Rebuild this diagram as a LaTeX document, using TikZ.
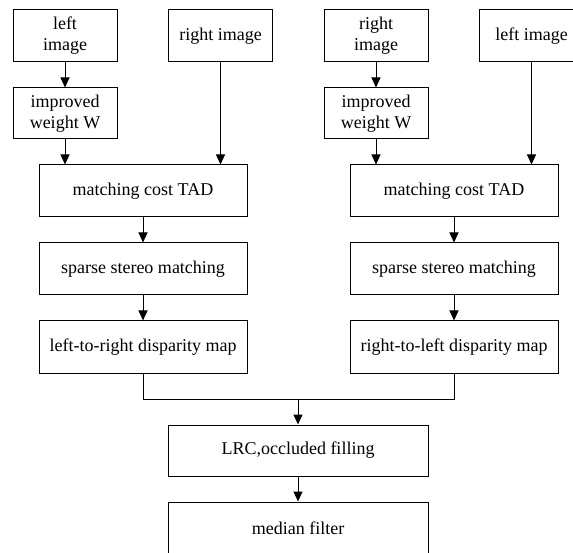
\documentclass[tikz,border=0pt]{standalone}
\usepackage{fontspec}
\setmainfont{Liberation Serif}
\usetikzlibrary{arrows.meta}
\tikzset{
  box/.style={draw, line width=1pt, rectangle, inner sep=0pt, align=center,
    font=\fontsize{18}{21}\selectfont},
  small/.style={box, minimum width=104pt, minimum height=52pt},
  wide/.style={box, minimum width=208pt, minimum height=52pt},
  big/.style={box, minimum width=260pt, minimum height=52pt},
  arr/.style={line width=1pt, -{Triangle[length=10pt,width=9pt]}},
  ln/.style={line width=1pt}
}
\begin{document}
\begin{tikzpicture}[x=1pt,y=-1pt]
\useasboundingbox (0,0) rectangle (573,553);
\clip (0,0) rectangle (573,553);
% left branch
\node[small] (li1) at (65,36) {left\\image};
\node[small] (ri1) at (220.5,36) {right image};
\node[small, minimum height=51pt] (iw1) at (65,113.5) {improved\\weight W};
\node[wide] (mc1) at (143,191) {matching cost TAD};
\node[wide] (ss1) at (143,269) {sparse stereo matching};
\node[wide] (dm1) at (143,347) {left-to-right disparity map};
% right branch
\node[small] (ri2) at (376,36) {right\\image};
\node[small] (li2) at (531.5,36) {left image};
\node[small, minimum height=51pt] (iw2) at (376,113.5) {improved\\weight W};
\node[wide] (mc2) at (454,191) {matching cost TAD};
\node[wide] (ss2) at (454,269) {sparse stereo matching};
\node[wide] (dm2) at (454,347) {right-to-left disparity map};
% merge
\node[big, minimum height=51pt] (lrc) at (298,450.5) {LRC,occluded filling};
\node[big] (mf) at (298,528) {median filter};
\coordinate (j) at (298,399);
% connectors
\draw[arr] (li1) -- (iw1);
\draw[arr] (iw1.south) -- (iw1.south |- mc1.north);
\draw[arr] (ri1.south) -- (ri1.south |- mc1.north);
\draw[arr] (mc1) -- (ss1);
\draw[arr] (ss1) -- (dm1);
\draw[arr] (ri2) -- (iw2);
\draw[arr] (iw2.south) -- (iw2.south |- mc2.north);
\draw[arr] (li2.south) -- (li2.south |- mc2.north);
\draw[arr] (mc2) -- (ss2);
\draw[arr] (ss2) -- (dm2);
\draw[ln] (dm1.south) -- (dm1.south |- j) -- (dm2.south |- j) -- (dm2.south);
\draw[arr] (j) -- (lrc.north);
\draw[arr] (lrc) -- (mf);
\end{tikzpicture}
\end{document}
